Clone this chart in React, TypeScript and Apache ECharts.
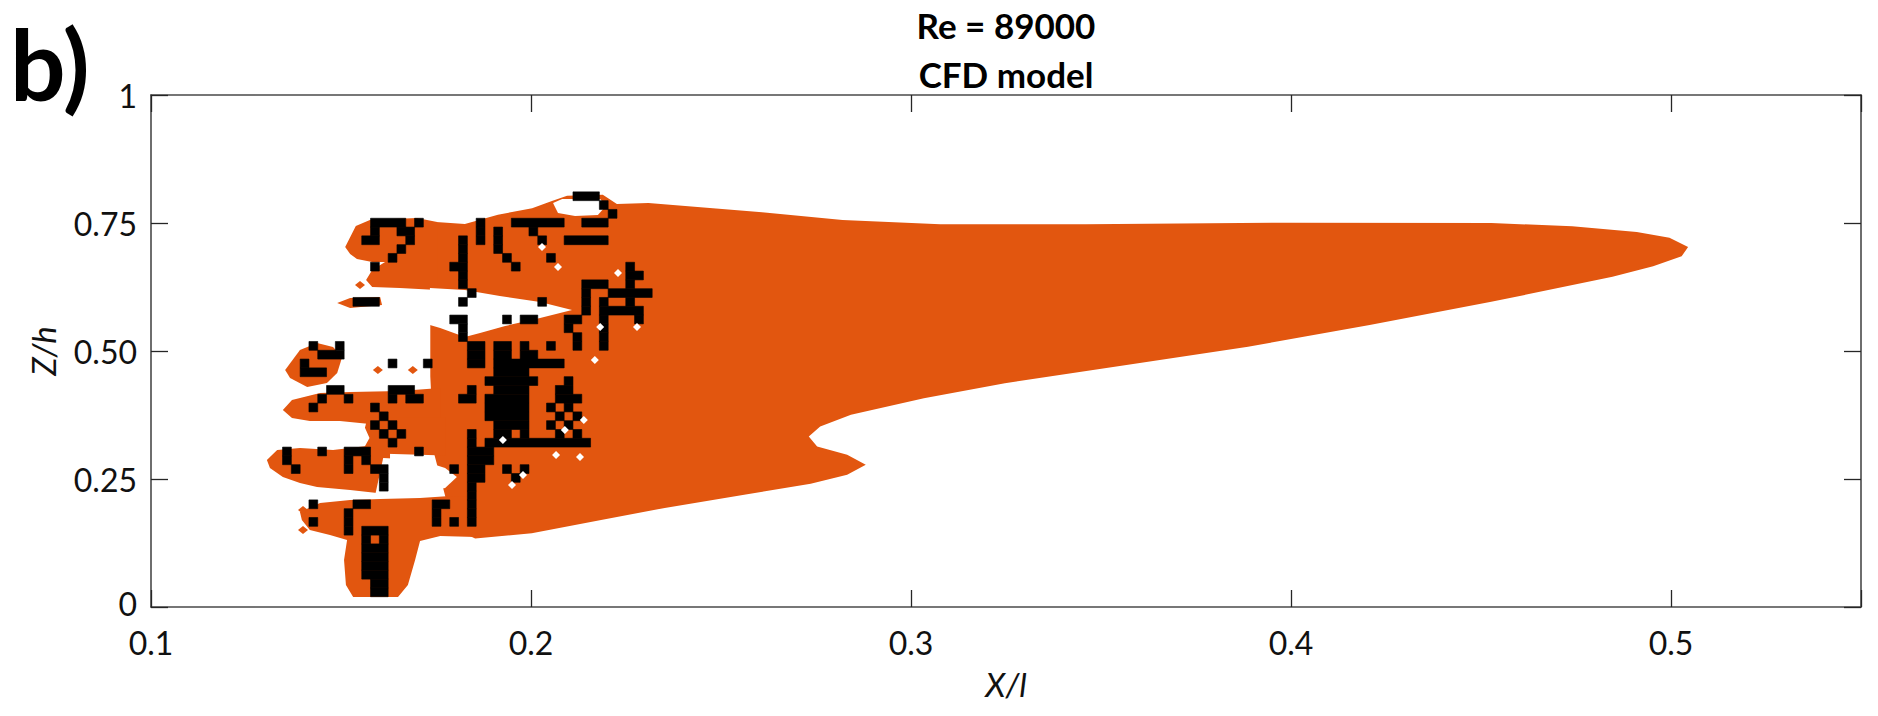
import React, { useEffect, useRef } from "react";
import * as echarts from "echarts";

// ---------- text ----------
const titleLines = ["Re = 89000", "CFD model"];
const panelLabel = "b)";
const xAxisName = "X/l";
const yAxisName = "Z/h";
const xTickValues = [0.1, 0.2, 0.3, 0.4, 0.5];
const yTickValues = [0, 0.25, 0.5, 0.75, 1];
const yTickLabels = ["0", "0.25", "0.50", "0.75", "1"];

// ---------- orange (filled) regions, in data units [X/l, Z/h] ----------
const plumeOutline = [
  [0.175, 0.752], [0.1826, 0.748], [0.1913, 0.766], [0.2003, 0.779], [0.2055, 0.793],
  [0.2095, 0.803], [0.2189, 0.805], [0.2226, 0.787], [0.2309, 0.789], [0.2608, 0.771],
  [0.282, 0.756], [0.3077, 0.7474], [0.346, 0.7474], [0.3994, 0.7506], [0.4527, 0.75],
  [0.474, 0.7435], [0.491, 0.7325], [0.4996, 0.7214], [0.5045, 0.7032], [0.5028, 0.685],
  [0.4953, 0.6656], [0.4846, 0.645], [0.4527, 0.596], [0.4207, 0.5506], [0.3887, 0.5084],
  [0.3567, 0.4727], [0.3247, 0.437], [0.3034, 0.4078], [0.2842, 0.3753], [0.2761, 0.3526],
  [0.2731, 0.333], [0.2753, 0.3136], [0.2832, 0.2974], [0.2881, 0.278], [0.2832, 0.2584],
  [0.2736, 0.2409], [0.2565, 0.2195], [0.2352, 0.1935], [0.2181, 0.1695], [0.2002, 0.144],
  [0.1853, 0.134], [0.1835, 0.14], [0.178, 0.2], [0.1745, 0.3], [0.1735, 0.45],
  [0.1735, 0.6], [0.1745, 0.72],
];
const topLeftLobe = [
  [0.1511, 0.7031], [0.1539, 0.7441], [0.1576, 0.7559], [0.17, 0.7598], [0.1753, 0.752],
  [0.1753, 0.6191], [0.1655, 0.623], [0.1582, 0.625], [0.1566, 0.6387], [0.1582, 0.6582],
  [0.1616, 0.6738], [0.1582, 0.6738], [0.1542, 0.6797], [0.1524, 0.6895],
];
const thinFinger = [
  [0.149, 0.5937], [0.1524, 0.6035], [0.1603, 0.6055], [0.1608, 0.5898], [0.1524, 0.584],
];
const midLeftLobe = [
  [0.1353, 0.4629], [0.1392, 0.502], [0.1437, 0.5156], [0.1479, 0.5078], [0.1503, 0.4883],
  [0.149, 0.457], [0.1463, 0.4375], [0.1411, 0.4297], [0.1366, 0.4473],
];
const upperBand = [
  [0.1347, 0.3848], [0.1371, 0.4043], [0.1445, 0.418], [0.1524, 0.42], [0.1655, 0.4219],
  [0.1761, 0.4277], [0.1761, 0.3555], [0.1655, 0.3594], [0.1576, 0.3574], [0.1497, 0.3633],
  [0.1418, 0.3633], [0.1371, 0.3691],
];
const bridge = [
  [0.157, 0.37], [0.1774, 0.37], [0.1774, 0.296], [0.1595, 0.3], [0.156, 0.31],
  [0.1575, 0.33], [0.1563, 0.35],
];
const middleFinger = [
  [0.1305, 0.2871], [0.1332, 0.3066], [0.1392, 0.3105], [0.1479, 0.3066], [0.1568, 0.3145],
  [0.1629, 0.3027], [0.1629, 0.2383], [0.1595, 0.2227], [0.1524, 0.2285], [0.1437, 0.2344],
  [0.1392, 0.2422], [0.1347, 0.2539], [0.1313, 0.2715],
];
const lowerBandAndLobe = [
  [0.1392, 0.1855], [0.1445, 0.2031], [0.1524, 0.209], [0.1603, 0.2109], [0.1708, 0.2129],
  [0.1787, 0.2168], [0.1839, 0.2148], [0.1855, 0.1367], [0.1761, 0.1387], [0.1708, 0.1289],
  [0.1695, 0.0918], [0.1676, 0.043], [0.165, 0.0195], [0.1532, 0.0195], [0.1513, 0.043],
  [0.1508, 0.0918], [0.1516, 0.1309], [0.1471, 0.1406], [0.1418, 0.1504], [0.1397, 0.1699],
];
const orangeRegions = [
  plumeOutline, topLeftLobe, thinFinger, midLeftLobe, upperBand, bridge, middleFinger, lowerBandAndLobe,
];
const orangeSpecks = [
  [0.155, 0.629], [0.1597, 0.4629], [0.1689, 0.4629], [0.14, 0.1895], [0.14, 0.1504],
];

// ---------- empty (white) gaps inside the orange ----------
const upperGap = [
  [0.1734, 0.623], [0.1826, 0.6191], [0.1918, 0.6074], [0.2024, 0.5957], [0.2108, 0.5801],
  [0.2024, 0.5645], [0.1932, 0.5488], [0.1866, 0.5352], [0.1826, 0.5273], [0.1761, 0.5449],
  [0.1734, 0.5508],
];
const lowerGap = [
  [0.1611, 0.291], [0.1708, 0.2871], [0.1774, 0.2715], [0.1805, 0.2539], [0.1774, 0.2324],
  [0.1708, 0.2227], [0.1611, 0.2148], [0.159, 0.2188],
];
const topNotch = [
  [0.2058, 0.7891], [0.2082, 0.7969], [0.2182, 0.7969], [0.2197, 0.7832], [0.2176, 0.7656],
  [0.2116, 0.7637], [0.2071, 0.7695],
];
const whiteGaps = [upperGap, lowerGap, topNotch];
const whiteSpecks = [
  [0.2129, 0.293], [0.2066, 0.2969], [0.1979, 0.2578], [0.195, 0.2383], [0.2139, 0.3652],
  [0.2089, 0.3457], [0.1926, 0.3262], [0.2029, 0.7031], [0.2071, 0.6641], [0.2168, 0.4824],
  [0.2182, 0.5469], [0.2279, 0.5469], [0.2229, 0.6523],
];

// ---------- black cells: grid origin / spacing and filled columns per row ----------
const cellX0 = 0.1323;
const cellDX = 0.002316;
const cellY0 = 0.0201;
const cellDY = 0.01719;
const blackCols: number[][] = [
  [11, 12], // row 0
  [11, 12],
  [10, 11, 12],
  [10, 11, 12],
  [10, 11, 12],
  [10, 11, 12],
  [10, 12],
  [8, 10, 11, 12],
  [4, 8, 18, 20, 22],
  [8, 18, 22],
  [4, 9, 10, 18, 19, 22], // row 10
  [22],
  [12, 22],
  [12, 22, 23, 27],
  [2, 8, 11, 12, 20, 22, 23, 26, 28],
  [1, 8, 10, 22, 23, 24],
  [1, 5, 8, 9, 10, 16, 22, 23, 24],
  [13, 22, 24, 25, 26, 27, 28, 29, 30, 31, 32, 33, 34, 35],
  [12, 14, 22, 25, 26, 28, 32, 34],
  [11, 13, 25, 26, 27, 28, 31, 33],
  [12, 24, 25, 26, 27, 28, 32, 34], // row 20
  [4, 11, 24, 25, 26, 27, 28, 31, 33],
  [5, 8, 13, 15, 16, 21, 22, 24, 25, 26, 27, 28, 32, 33, 34],
  [6, 7, 13, 14, 15, 22, 25, 26, 27, 28, 32, 33],
  [24, 25, 26, 27, 28, 29, 33],
  [3, 4, 5, 25, 26, 27, 28],
  [3, 13, 17, 22, 23, 25, 26, 27, 28, 29, 30, 31, 32],
  [5, 6, 7, 22, 23, 25, 26, 28, 29],
  [4, 7, 22, 23, 25, 26, 28, 31, 34, 37],
  [21, 34, 37],
  [21, 33, 37], // row 30
  [20, 21, 26, 28, 29, 33, 34, 37, 41],
  [35, 37, 38, 39, 40, 41],
  [9, 10, 11, 21, 30, 35, 37, 40],
  [22, 35, 38, 39, 40, 41, 42],
  [21, 35, 36, 37, 40],
  [21, 40, 41],
  [11, 20, 21, 27, 40],
  [13, 21, 26, 31],
  [14, 21, 25],
  [10, 11, 15, 21, 23, 25, 30, 33, 34, 35, 36, 37], // row 40
  [11, 14, 15, 23, 25, 29],
  [11, 12, 13, 14, 16, 23, 27, 28, 29, 30, 31, 32, 35, 36, 37],
  [38],
  [37],
  [34, 35, 36], // row 45
];

const ORANGE = "#E2560F";

function buildBlackRects(): number[][] {
  const rects: number[][] = [];
  blackCols.forEach((cols, r) => {
    const s = [...cols].sort((a, b) => a - b);
    let i = 0;
    while (i < s.length) {
      let j = i;
      while (j + 1 < s.length && s[j + 1] === s[j] + 1) j++;
      rects.push([
        cellX0 + s[i] * cellDX,
        cellY0 + r * cellDY,
        cellX0 + (s[j] + 1) * cellDX,
        cellY0 + (r + 1) * cellDY,
      ]);
      i = j + 1;
    }
  });
  return rects;
}

export default function App() {
  const ref = useRef<HTMLDivElement>(null);
  useEffect(() => {
    if (!ref.current) return;
    const chart = echarts.init(ref.current, undefined, { renderer: "svg" });
    const blackRects = buildBlackRects();
    const axisLine = { show: true, onZero: false, lineStyle: { color: "#4a4a4a", width: 1.6 } };
    const axisTick = { show: true, inside: true, length: 17, lineStyle: { color: "#262626", width: 1.3 } };
    const labelFont = { fontFamily: "Lato", fontSize: 32, lineHeight: 30, color: "#111" };
    const nameFont = { fontFamily: "Lato", fontStyle: "italic", fontSize: 33, color: "#111" };
    const xFmt = (v: number) => {
      const k = xTickValues.findIndex((t) => Math.abs(t - v) < 1e-6);
      return k >= 0 ? String(xTickValues[k]) : "";
    };
    const yFmt = (v: number) => {
      const k = yTickValues.findIndex((t) => Math.abs(t - v) < 1e-6);
      if (k < 0) return "";
      return k === 0 ? "{low|" + yTickLabels[k] + "}" : yTickLabels[k];
    };
    const textStyle = (font: string, align: string) => ({
      font, fill: "#000",
      textAlign: align, textVerticalAlign: "middle", align, verticalAlign: "middle",
    });
    const speck = (api: any, fill: string, hw: number, hh: number) => {
      const c = api.coord([api.value(0), api.value(1)]);
      return {
        type: "polygon",
        shape: { points: [[c[0] - hw, c[1]], [c[0], c[1] - hh], [c[0] + hw, c[1]], [c[0], c[1] + hh]] },
        style: { fill },
      };
    };
    const option: any = {
      animation: false,
      backgroundColor: "#ffffff",
      grid: { left: 151, right: 17, top: 95, bottom: 109, containLabel: false },
      xAxis: [
        {
          type: "value", min: 0.1, max: 0.55, interval: 0.1, position: "bottom",
          axisLine, axisTick,
          axisLabel: { ...labelFont, margin: 20, formatter: xFmt },
          splitLine: { show: false },
          name: xAxisName, nameLocation: "middle", nameGap: 60, nameTextStyle: nameFont,
        },
        {
          type: "value", min: 0.1, max: 0.55, interval: 0.1, position: "top",
          axisLine, axisTick, axisLabel: { show: false }, splitLine: { show: false },
        },
      ],
      yAxis: [
        {
          type: "value", min: 0, max: 1, interval: 0.25, position: "left",
          axisLine, axisTick,
          axisLabel: {
            ...labelFont, margin: 14, formatter: yFmt,
            rich: { low: { fontFamily: "Lato", fontSize: 32, lineHeight: 30, color: "#111", padding: [0, 0, 7, 0] } },
          },
          splitLine: { show: false },
          name: yAxisName, nameLocation: "middle", nameRotate: 90, nameGap: 92, nameTextStyle: nameFont,
        },
        {
          type: "value", min: 0, max: 1, interval: 0.25, position: "right",
          axisLine, axisTick, axisLabel: { show: false }, splitLine: { show: false },
        },
      ],
      series: [
        {
          type: "custom", name: "region", coordinateSystem: "cartesian2d", xAxisIndex: 0, yAxisIndex: 0,
          z: 2, silent: true,
          data: orangeRegions.map((p) => p[0]),
          renderItem: (params: any, api: any) => ({
            type: "polygon",
            shape: { points: orangeRegions[params.dataIndex].map((pt) => api.coord(pt)) },
            style: { fill: ORANGE },
          }),
        },
        {
          type: "custom", name: "specks", coordinateSystem: "cartesian2d", xAxisIndex: 0, yAxisIndex: 0,
          z: 3, silent: true,
          data: orangeSpecks,
          renderItem: (params: any, api: any) => speck(api, ORANGE, 5, 4),
        },
        {
          type: "custom", name: "gaps", coordinateSystem: "cartesian2d", xAxisIndex: 0, yAxisIndex: 0,
          z: 4, silent: true,
          data: whiteGaps.map((p) => p[0]),
          renderItem: (params: any, api: any) => ({
            type: "polygon",
            shape: { points: whiteGaps[params.dataIndex].map((pt) => api.coord(pt)) },
            style: { fill: "#ffffff" },
          }),
        },
        {
          type: "custom", name: "cells", coordinateSystem: "cartesian2d", xAxisIndex: 0, yAxisIndex: 0,
          z: 5, silent: true,
          data: blackRects,
          encode: { x: [0, 2], y: [1, 3] },
          renderItem: (params: any, api: any) => {
            const a = api.coord([api.value(0), api.value(3)]);
            const b = api.coord([api.value(2), api.value(1)]);
            return {
              type: "rect",
              shape: { x: a[0], y: a[1], width: b[0] - a[0], height: b[1] - a[1] },
              style: { fill: "#000000", stroke: "#000000", lineWidth: 0.6 },
            };
          },
        },
        {
          type: "custom", name: "holes", coordinateSystem: "cartesian2d", xAxisIndex: 0, yAxisIndex: 0,
          z: 6, silent: true,
          data: whiteSpecks,
          renderItem: (params: any, api: any) => speck(api, "#ffffff", 4, 4),
        },
      ],
      graphic: [
        { type: "text", x: 1006, y: 25, style: { text: titleLines[0], ...textStyle("bold 35px Lato", "center") } },
        { type: "text", x: 1006, y: 74, style: { text: titleLines[1], ...textStyle("bold 35px Lato", "center") } },
        { type: "text", x: 10, y: 63, style: { text: panelLabel, ...textStyle("bold 98px Lato", "left") } },
      ],
    };
    chart.setOption(option);
    return () => chart.dispose();
  }, []);
  return (
    <div
      ref={ref}
      style={{ position: "absolute", left: 0, top: 0, width: 1878, height: 716, background: "#fff" }}
    />
  );
}
